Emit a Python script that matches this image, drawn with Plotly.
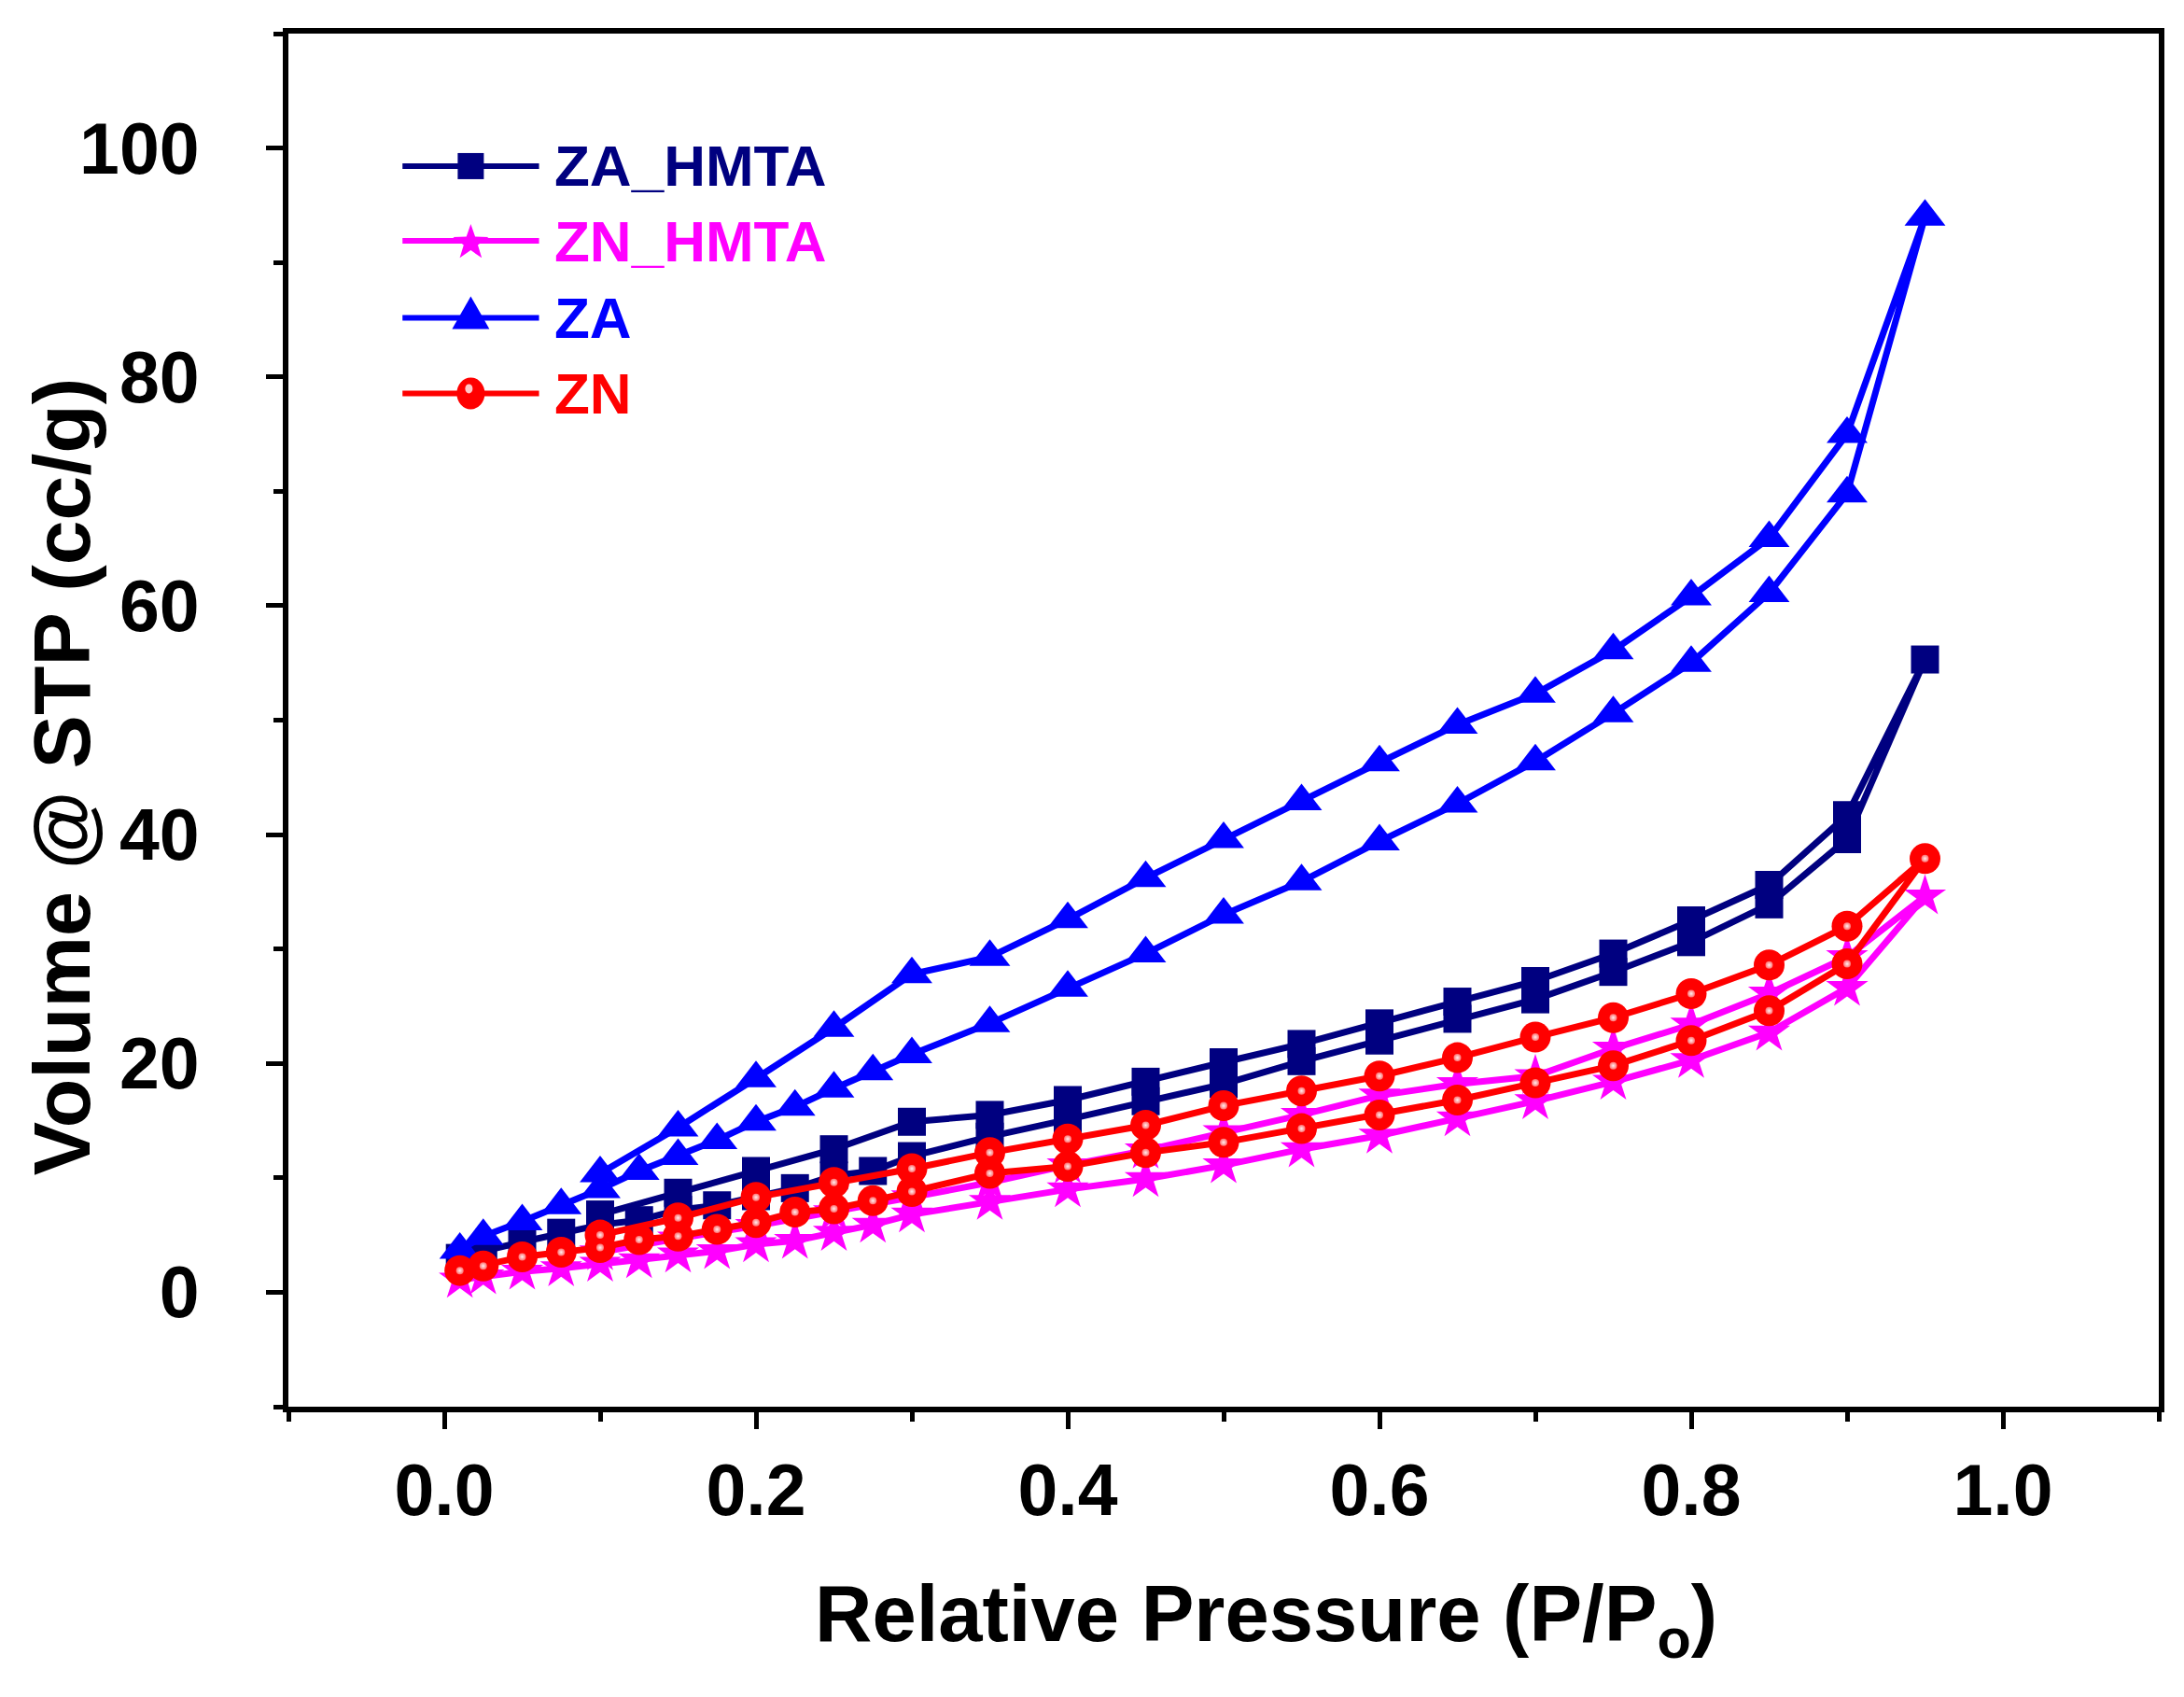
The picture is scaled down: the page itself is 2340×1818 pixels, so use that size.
import math
import plotly.graph_objs as go

# relative pressure steps, adsorption branch then desorption branch
p_ads = [0.01, 0.025, 0.05, 0.075, 0.1, 0.125, 0.15, 0.175, 0.2, 0.225, 0.25, 0.275, 0.3,
         0.35, 0.4, 0.45, 0.5, 0.55, 0.6, 0.65, 0.7, 0.75, 0.8, 0.85, 0.9, 0.95]
p_des = [0.9, 0.85, 0.8, 0.75, 0.7, 0.65, 0.6, 0.55, 0.5, 0.45, 0.4, 0.35, 0.3, 0.25, 0.2, 0.15, 0.1]

za_hmta_ads = [3.0, 3.6, 4.4, 5.2, 5.9, 6.3, 7.2, 7.6, 8.4, 9.1, 10.2, 10.6, 11.9,
               13.6, 15.1, 16.7, 18.2, 20.2, 22.0, 23.9, 25.6, 28.0, 30.6, 33.9, 39.6, 55.3]
za_hmta_des = [41.7, 35.6, 32.5, 29.6, 27.2, 25.4, 23.5, 21.7, 20.1, 18.4, 16.8, 15.5, 14.9, 12.5, 10.6, 8.7, 6.8]

zn_hmta_ads = [1.1, 1.4, 1.8, 2.1, 2.5, 2.8, 3.3, 3.6, 4.2, 4.5, 5.2, 5.9, 6.8,
               7.9, 9.0, 9.9, 11.1, 12.5, 13.7, 15.2, 16.7, 18.4, 20.3, 22.7, 26.6, 34.6]
zn_hmta_des = [29.3, 26.1, 23.4, 21.3, 18.9, 18.2, 17.2, 15.5, 14.0, 12.4, 11.1, 9.6, 8.3, 7.0, 5.8, 4.7, 3.5]

za_ads = [3.7, 4.9, 6.2, 7.6, 9.0, 10.6, 11.9, 13.3, 14.9, 16.2, 17.8, 19.3, 20.8,
          23.5, 26.6, 29.6, 33.0, 35.9, 39.4, 42.7, 46.4, 50.6, 55.0, 61.1, 69.8, 94.0]
za_des = [75.0, 65.9, 60.8, 56.1, 52.3, 49.6, 46.3, 42.9, 39.6, 36.2, 32.6, 29.3, 27.8, 23.1, 18.7, 14.4, 10.4]

zn_ads = [1.9, 2.3, 3.1, 3.5, 3.9, 4.6, 4.9, 5.5, 6.1, 7.0, 7.3, 8.0, 8.8,
          10.4, 11.0, 12.2, 13.1, 14.3, 15.5, 16.8, 18.3, 19.8, 22.0, 24.6, 28.7, 37.9]
zn_des = [32.0, 28.6, 26.1, 24.0, 22.3, 20.5, 18.9, 17.6, 16.3, 14.6, 13.4, 12.2, 10.8, 9.6, 8.3, 6.5, 5.0]

series_names = ['ZA_HMTA', 'ZN_HMTA', 'ZA', 'ZN']
series_colors = ['#000080', '#FF00FF', '#0000FF', '#FF0000']

FONT = 'Liberation Sans, Arial, sans-serif'


def isotherm(name, color, ads, des, symbol, size):
    return go.Scatter(
        name=name,
        x=p_ads + p_des,
        y=ads + des,
        mode='lines+markers',
        showlegend=False,
        line=dict(color=color, width=7),
        marker=dict(symbol=symbol, size=size, color=color, line=dict(width=0)))


traces = [
    isotherm('ZA_HMTA', series_colors[0], za_hmta_ads, za_hmta_des, 'square', 30),
    isotherm('ZN_HMTA', series_colors[1], zn_hmta_ads, zn_hmta_des, 'star', 34),
    isotherm('ZA', series_colors[2], za_ads, za_des, 'triangle-up', 38),
    isotherm('ZN', series_colors[3], zn_ads, zn_des, 'circle', 33),
]
# shiny highlight on the ZN spheres
traces.append(go.Scatter(x=p_ads + p_des, y=zn_ads + zn_des, mode='markers', showlegend=False,
                         hoverinfo='skip',
                         marker=dict(symbol='circle', size=8, color='#FF7070', line=dict(width=0),
                                     gradient=dict(type='radial', color='#FFF0F0'))))

fig = go.Figure(data=traces)

# legend drawn by hand: long line + symbol + coloured label
leg_rows = [0.9035, 0.849, 0.793, 0.738]
leg_x0, leg_xm, leg_x1, leg_xt = 0.061, 0.0975, 0.134, 0.141


def star_path(r_out, r_in):
    pts = []
    for k in range(10):
        r = r_out if k % 2 == 0 else r_in
        a = math.pi / 2 + k * math.pi / 5
        pts.append('%.1f,%.1f' % (r * math.cos(a), r * math.sin(a) - 2))
    return 'M' + 'L'.join(pts) + 'Z'


shapes = []
annotations = []
for name, color, yy in zip(series_names, series_colors, leg_rows):
    shapes.append(dict(type='line', xref='paper', yref='paper', x0=leg_x0, x1=leg_x1, y0=yy, y1=yy,
                       line=dict(color=color, width=6)))
    pix = dict(xref='paper', yref='paper', xsizemode='pixel', ysizemode='pixel',
               xanchor=leg_xm, yanchor=yy, fillcolor=color, line=dict(width=0))
    if name == 'ZA_HMTA':
        shapes.append(dict(type='rect', x0=-14, x1=14, y0=-14, y1=14, **pix))
    elif name == 'ZN_HMTA':
        shapes.append(dict(type='path', path=star_path(20, 8), **pix))
    elif name == 'ZA':
        shapes.append(dict(type='path', path='M-20,-12L20,-12L0,23Z', **pix))
    else:
        shapes.append(dict(type='circle', x0=-15, x1=15, y0=-17, y1=17, **pix))
        shapes.append(dict(type='circle', x0=-6, x1=2, y0=0, y1=10, xref='paper', yref='paper',
                           xsizemode='pixel', ysizemode='pixel', xanchor=leg_xm, yanchor=yy,
                           fillcolor='#FFC8C8', line=dict(width=0)))
    annotations.append(dict(text=name, xref='paper', yref='paper', x=leg_xt, y=yy,
                            xanchor='left', yanchor='middle', showarrow=False,
                            font=dict(family=FONT, size=62, color=color, weight='bold')))

annotations.append(dict(text='Relative Pressure (P/P<sub>o</sub>)', xref='paper', yref='paper',
                        x=0.5225, y=-0.155, xanchor='center', yanchor='middle', showarrow=False,
                        font=dict(family=FONT, size=85, color='black', weight='bold')))
annotations.append(dict(text='Volume @ STP (cc/g)', xref='paper', yref='paper', textangle=-90,
                        x=-0.1215, y=0.459, xanchor='center', yanchor='middle', showarrow=False,
                        font=dict(family=FONT, size=86, color='black', weight='bold')))

axis_common = dict(showgrid=False, zeroline=False, showline=True, linecolor='black', linewidth=6,
                   mirror=True, ticks='outside', ticklen=18, tickwidth=5, tickcolor='black',
                   tickfont=dict(family=FONT, size=77, color='black', weight='bold'))

fig.update_layout(
    width=2335, height=1813,
    margin=dict(l=301, r=30, t=28, b=314),
    paper_bgcolor='white', plot_bgcolor='white',
    showlegend=False,
    xaxis=dict(range=[-0.1, 1.1], tickvals=[0, 0.2, 0.4, 0.6, 0.8, 1.0], tickformat='.1f',
               minor=dict(dtick=0.1, tick0=0, ticks='outside', ticklen=10, tickwidth=5, tickcolor='black'),
               ticklabelstandoff=0, **axis_common),
    yaxis=dict(range=[-10, 110], tick0=0, dtick=20,
               minor=dict(dtick=10, tick0=0, ticks='outside', ticklen=10, tickwidth=5, tickcolor='black'),
               ticklabelstandoff=56, **axis_common),
    shapes=shapes,
    annotations=annotations)

fig.write_html('out.html')
